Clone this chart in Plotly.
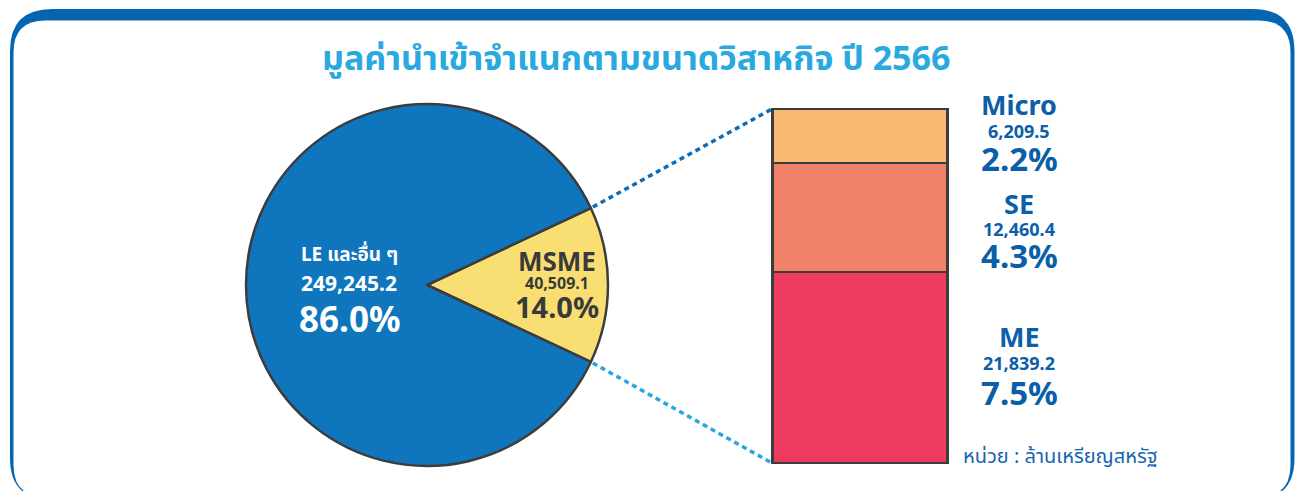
import math
import plotly.graph_objects as go

W, H = 1296, 491

# ---------------- data ----------------
title_text = "มูลค่านำเข้าจำแนกตามขนาดวิสาหกิจ ปี 2566"
pie_labels = ["MSME", "LE และอื่น ๆ"]
pie_values = [40509.1, 249245.2]
pie_shares = ["14.0%", "86.0%"]
pie_colors = ["#F9DF73", "#0F76BE"]

seg_labels = ["ME", "SE", "Micro"]
seg_values = [21839.2, 12460.4, 6209.5]
seg_shares = ["7.5%", "4.3%", "2.2%"]
seg_colors = ["#EC3B5F", "#F2816A", "#F8B971"]
unit_text = "หน่วย : ล้านเหรียญสหรัฐ"

FONT = "Noto Sans, Noto Sans Thai, Loma, sans-serif"
OUTLINE = "#3C3C3C"
BLUE_TXT = "#0B5EA8"


def px(x):
    return x / W


def py(y):
    return 1 - y / H


def rrect(l, t, r, b, rad):
    pts = [
        f"M {px(l)} {py(t + rad)}",
        f"Q {px(l)} {py(t)} {px(l + rad)} {py(t)}",
        f"L {px(r - rad)} {py(t)}",
        f"Q {px(r)} {py(t)} {px(r)} {py(t + rad)}",
        f"L {px(r)} {py(b - rad)}",
        f"Q {px(r)} {py(b)} {px(r - rad)} {py(b)}",
        f"L {px(l + rad)} {py(b)}",
        f"Q {px(l)} {py(b)} {px(l)} {py(b - rad)}",
        "Z",
    ]
    return " ".join(pts)


fig = go.Figure()

# ---------------- pie ----------------
cx, cy, rad = 427, 285, 181
total_pie = sum(pie_values)
half_ang = 180 * pie_values[0] / total_pie
fig.add_trace(go.Pie(
    labels=pie_labels, values=pie_values, sort=False, direction="clockwise",
    rotation=90 - half_ang, textinfo="none", hoverinfo="label+value+percent",
    marker=dict(colors=pie_colors, line=dict(color=OUTLINE, width=2.5)),
    domain=dict(x=[px(cx - rad), px(cx + rad)], y=[py(cy + rad), py(cy - rad)]),
    showlegend=False,
))

# ---------------- stacked bar ----------------
bar_l, bar_r, bar_t, bar_b = 772, 947, 109, 463
seg_total = sum(seg_values)
xpad, ypad = 0.06, 0.03
bw = bar_r - bar_l
bh = bar_b - bar_t
for lab, v, c in zip(seg_labels, seg_values, seg_colors):
    fig.add_trace(go.Bar(
        x=[0], y=[v], width=1, name=lab, marker=dict(color=c, line=dict(color=OUTLINE, width=2.5)),
        showlegend=False, xaxis="x", yaxis="y", hoverinfo="name+y",
    ))

fig.update_layout(
    barmode="stack",
    xaxis=dict(domain=[px(bar_l - xpad * bw), px(bar_r + xpad * bw)], range=[-0.5 - xpad, 0.5 + xpad],
               visible=False, fixedrange=True),
    yaxis=dict(domain=[py(bar_b + ypad * bh), py(bar_t - ypad * bh)],
               range=[-ypad * seg_total, (1 + ypad) * seg_total], visible=False, fixedrange=True),
)

shapes = []
# frame
shapes.append(dict(type="path", xref="paper", yref="paper", path=rrect(10, 9, 1294.5, 500, 42),
                   fillcolor="#0565B0", line=dict(width=0), layer="below"))
shapes.append(dict(type="path", xref="paper", yref="paper", path=rrect(13.5, 20.5, 1290.5, 497, 32),
                   fillcolor="white", line=dict(width=0), layer="below"))

# connectors from pie slice edges to bar corners
a = math.radians(half_ang)
ux, uy = cx + rad * math.cos(a), cy - rad * math.sin(a)
lx, ly = cx + rad * math.cos(a), cy + rad * math.sin(a)
shapes.append(dict(type="line", xref="paper", yref="paper", x0=px(ux + 2), y0=py(uy - 1), x1=px(bar_l), y1=py(bar_t),
                   line=dict(color="#0E6DB6", width=3.5, dash="5px,4px")))
shapes.append(dict(type="line", xref="paper", yref="paper", x0=px(lx + 2), y0=py(ly + 1), x1=px(bar_l), y1=py(bar_b),
                   line=dict(color="#2AA6DF", width=3.5, dash="5px,4px")))

annotations = []


def ann(text, x, y, size, color, weight="bold"):
    annotations.append(dict(text=text, x=px(x), y=py(y), xref="paper", yref="paper", showarrow=False,
                            xanchor="center", yanchor="middle", borderpad=0,
                            font=dict(family=FONT, size=size, color=color, weight=weight)))


ann(title_text, 636, 57, 34, "#29A9E0")

# pie labels
lex = cx - 0.43 * rad
ann(pie_labels[1], lex, 254, 19, "white")
ann(f"{pie_values[1]:,.1f}", lex, 283, 21, "white")
ann(pie_shares[1], lex, 318, 35, "white")
msx = cx + 0.72 * rad
ann(pie_labels[0], msx, 261, 26, "#3A3A3A")
ann(f"{pie_values[0]:,.1f}", msx, 283, 16, "#3A3A3A")
ann(pie_shares[0], msx, 306, 29, "#3A3A3A")

# bar labels
tx = 1019
ypos = {"Micro": (104, 131, 158), "SE": (203, 229, 256), "ME": (336, 363, 392)}
for lab, v, s in zip(seg_labels, seg_values, seg_shares):
    y1, y2, y3 = ypos[lab]
    ann(lab, tx, y1, 27, BLUE_TXT)
    ann(f"{v:,.1f}", tx, y2, 18, BLUE_TXT)
    ann(s, tx, y3, 33, BLUE_TXT)

annotations.append(dict(text=unit_text, x=px(962), y=py(455), xref="paper", yref="paper", showarrow=False,
                        xanchor="left", yanchor="middle", borderpad=0,
                        font=dict(family=FONT, size=20, color="#1565B0")))

fig.update_layout(
    width=W, height=H, margin=dict(l=0, r=0, t=0, b=0),
    paper_bgcolor="white", plot_bgcolor="rgba(0,0,0,0)",
    shapes=shapes, annotations=annotations, bargap=0,
)

fig.write_html("out.html", config={"displayModeBar": False},
               post_script="document.body.style.margin='0';document.body.style.overflow='hidden';")
